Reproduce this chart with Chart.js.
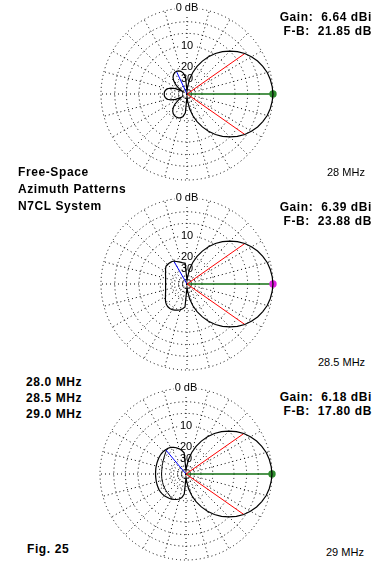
<!DOCTYPE html>
<html lang="en">
<head>
<meta charset="UTF-8">
<title>N7CL System - Free-Space Azimuth Patterns</title>
<script src="https://cdn.jsdelivr.net/npm/chart.js"></script>
<style>
  body { margin: 0; background: #fff; font-family: Arial, "Liberation Sans", sans-serif; }
  #page { position: relative; width: 376px; height: 570px; overflow: hidden; }
  canvas { position: absolute; }
  .t { position: absolute; color: #000; white-space: pre; line-height: 14px; }
  .b { font-weight: bold; font-size: 12px; letter-spacing: 0.6px; }
  .s { font-size: 11px; }
  .r { text-align: right; }
</style>
</head>
<body>
<div id="page">
  <canvas id="p1" width="186" height="186" style="left:94px;top:1px"></canvas>
  <canvas id="p2" width="186" height="186" style="left:94px;top:191px"></canvas>
  <canvas id="p3" width="186" height="186" style="left:93px;top:381px"></canvas>

  <div class="t b r" style="right:4px;top:10px">Gain:  6.64 dBi<br>F-B:  21.85 dB</div>
  <div class="t b r" style="right:4px;top:200px">Gain:  6.39 dBi<br>F-B:  23.88 dB</div>
  <div class="t b r" style="right:4px;top:390px">Gain:  6.18 dBi<br>F-B:  17.80 dB</div>

  <div class="t s" style="left:327px;top:165px">28 MHz</div>
  <div class="t s" style="left:318px;top:355px">28.5 MHz</div>
  <div class="t s" style="left:326px;top:545px">29 MHz</div>

  <div class="t b" style="left:18px;top:164px;line-height:17px">Free-Space<br>Azimuth Patterns<br>N7CL System</div>
  <div class="t b" style="left:26px;top:374px;line-height:16px">28.0 MHz<br>28.5 MHz<br>29.0 MHz</div>
  <div class="t b" style="left:27px;top:542px">Fig. 25</div>
</div>

<script>
// azimuth steps of the patterns (deg, 0 = right, counter-clockwise)
const AZIMUTHS = Array.from({length: 72}, (_, i) => i * 5);

// rings of the ARRL log scale (dB) and their labels
const RING_DB = [-50, -40, -30, -20, -10, -6, -3, 0];
const RING_TEXT = ['', '', '30', '20', '10', '', '', '0 dB'];

// relative field (dB) at each azimuth in AZIMUTHS
const PAT_28 = [
  0, -0.1, -0.3, -0.6, -1.1, -1.7, -2.5, -3.4, -4.6, -6.0, -7.6, -9.5,
  -11.9, -14.8, -18.4, -23.2, -30, -42, -60, -28, -24, -22.3, -21.5, -21.2,
  -21.4, -22.2, -23.6, -26, -30, -37, -48, -33, -27.5, -24.8, -23.5, -22.9,
  -22.8, -22.9, -23.5, -24.8, -27.5, -33, -45, -36, -29, -25.5, -23.2, -21.9,
  -21.2, -20.9, -20.9, -21.4, -22.8, -26, -60, -42, -30, -23.2, -18.4, -14.8,
  -11.9, -9.5, -7.6, -6.0, -4.6, -3.4, -2.5, -1.7, -1.1, -0.6, -0.3, -0.1
];
const PAT_285 = [
  0, -0.1, -0.3, -0.6, -1.1, -1.7, -2.5, -3.4, -4.6, -6.0, -7.6, -9.5,
  -11.9, -14.8, -18.4, -23.2, -30, -42, -55, -24.4, -23.9, -23.1, -22.3, -21.3,
  -20.2, -19.8, -19.6, -19.5, -19.6, -20.4, -21.4, -22.1, -22.8, -23.3, -23.6, -23.8,
  -23.9, -23.8, -23.6, -23.3, -22.8, -22.1, -21.3, -20.3, -19.3, -18.6, -18.2, -18.1,
  -18.3, -18.8, -19.4, -20.0, -21.1, -22.6, -55, -42, -30, -23.2, -18.4, -14.8,
  -11.9, -9.5, -7.6, -6.0, -4.6, -3.4, -2.5, -1.7, -1.1, -0.6, -0.3, -0.1
];
const PAT_29 = [
  0, -0.1, -0.3, -0.6, -1.1, -1.7, -2.5, -3.4, -4.6, -6.0, -7.6, -9.5,
  -11.9, -14.8, -18.4, -23.2, -30, -42, -55, -24, -22, -20.5, -19.3, -18.4,
  -17.7, -17.3, -17.1, -17.0, -17.0, -17.1, -17.2, -17.4, -17.5, -17.6, -17.7, -17.8,
  -17.8, -17.8, -17.8, -17.7, -17.6, -17.5, -17.4, -17.4, -17.5, -17.7, -18.0, -18.3,
  -18.7, -19.2, -19.8, -20.6, -22, -25, -55, -42, -30, -23.2, -18.4, -14.8,
  -11.9, -9.5, -7.6, -6.0, -4.6, -3.4, -2.5, -1.7, -1.1, -0.6, -0.3, -0.1
];
// inner rear trace seen inside the 29 MHz back lobe (null = not drawn)
const PAT_29_INNER = [
  null, null, null, null, null, null, null, null, null, null, null, null,
  null, null, null, null, null, null, null, null, null, null, null, null,
  null, -17.3, -17.8, -18.5, -19.2, -19.8, -20.3, -20.7, -21.0, -21.3, -21.5, -21.6,
  -21.6, -21.6, -21.5, -21.4, -21.3, -21.1, -20.9, -20.7, -20.5, -20.3, -20.1, -19.6,
  -19.0, null, null, null, null, null, null, null, null, null, null, null,
  null, null, null, null, null, null, null, null, null, null, null, null
];

// marker directions (deg)
const HALF_POWER_AZ = [[35, 325], [35, 325], [35, 325]];
const REAR_AZ = [115, 120, 130];
const MAX_AZ = 0;
const DOT_COLORS = ['#2e8b2e', '#e020e0', '#2e8b2e'];

// ARRL log scale: 2 dB steps of 0.89
function arrl(db) {
  return Math.pow(0.89, -db / 2);
}

function buildChart(id, pattern, halfPower, rearAz, dotColor, inner) {
  const n = AZIMUTHS.length;
  // radar labels run clockwise from the top, so index i is azimuth 90 - 5i
  const labels = AZIMUTHS.map((_, i) => (90 - 5 * i + 360) % 360);
  const toRadius = (list) => labels.map(az => {
    const db = list[AZIMUTHS.indexOf(az)];
    return db === null ? null : arrl(db);
  });
  const values = toRadius(pattern);

  const ray = (azList) => {
    const d = new Array(n).fill(null);
    azList.forEach(az => {
      const i = labels.indexOf(az);
      d[i] = values[i];
      d[(i + 1) % n] = 0;
    });
    return d;
  };
  const maxIndex = labels.indexOf(MAX_AZ);

  const datasets = [
    { data: values, borderColor: '#000', borderWidth: 1.2 },
    { data: ray(halfPower), borderColor: '#ff0000', borderWidth: 1 },
    { data: ray([rearAz]), borderColor: '#0000ff', borderWidth: 1 },
    {
      data: ray([MAX_AZ]), borderColor: '#137013', borderWidth: 1.4,
      pointRadius: ctx => ctx.dataIndex === maxIndex ? 3 : 0,
      pointBackgroundColor: dotColor, pointBorderColor: dotColor
    }
  ];
  if (inner) {
    datasets.push({ data: toRadius(inner), borderColor: '#000', borderWidth: 1 });
  }

  new Chart(document.getElementById(id), {
    type: 'radar',
    data: { labels: labels, datasets: datasets },
    options: {
      responsive: false,
      animation: false,
      devicePixelRatio: 1,
      elements: {
        line: { tension: 0, fill: false },
        point: { radius: 0 }
      },
      plugins: { legend: { display: false }, tooltip: { enabled: false } },
      scales: {
        r: {
          min: 0,
          max: 1,
          startAngle: 0,
          afterBuildTicks: (scale) => {
            scale.ticks = [0].concat(RING_DB.map(arrl)).map(v => ({ value: v }));
          },
          ticks: {
            callback: (v, i) => (i === 0 ? '' : RING_TEXT[i - 1]),
            font: { size: 11, family: 'Arial' },
            color: '#000',
            backdropColor: '#fff',
            backdropPadding: { x: 1, y: 1 },
            showLabelBackdrop: ctx => !!(ctx.tick && ctx.tick.label)
          },
          grid: { circular: true, color: '#000', lineWidth: 1 },
          border: { dash: [1, 3] },
          angleLines: {
            // dotted spoke every 15 deg, none under the max-gain line
            color: ctx => (ctx.index % 3 === 0 && ctx.index !== maxIndex ? '#000' : 'rgba(0,0,0,0)'),
            lineWidth: 1,
            borderDash: [1, 3]
          },
          pointLabels: { display: false }
        }
      }
    }
  });
}

buildChart('p1', PAT_28, HALF_POWER_AZ[0], REAR_AZ[0], DOT_COLORS[0]);
buildChart('p2', PAT_285, HALF_POWER_AZ[1], REAR_AZ[1], DOT_COLORS[1]);
buildChart('p3', PAT_29, HALF_POWER_AZ[2], REAR_AZ[2], DOT_COLORS[2], PAT_29_INNER);
</script>
</body>
</html>
